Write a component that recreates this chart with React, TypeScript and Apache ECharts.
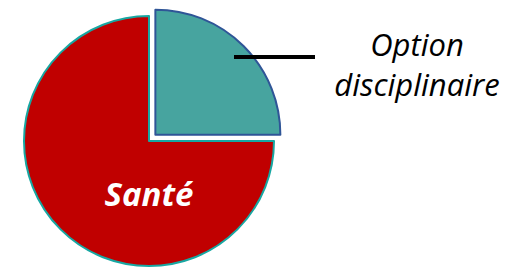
import React, { useEffect, useRef } from "react";
import * as echarts from "echarts";

const categories = ["Option\ndisciplinaire", "Santé"];
const values = [25, 75];
const colors = ["#47A49F", "#C00000"];
const borders = ["#2F5597", "#17A7A2"];

export default function App() {
  const ref = useRef<HTMLDivElement>(null);
  useEffect(() => {
    const chart = echarts.init(ref.current!, null, { renderer: "svg" });
    chart.setOption({
      animation: false,
      backgroundColor: "#ffffff",
      series: [
        {
          type: "pie",
          center: [149, 141],
          radius: 125,
          startAngle: 90,
          clockwise: true,
          selectedMode: "single",
          selectedOffset: 9,
          silent: true,
          labelLine: { show: false },
          data: categories.map((name, i) => ({
            name,
            value: values[i],
            selected: i === 0,
            itemStyle: { color: colors[i], borderColor: borders[i], borderWidth: 2 },
            label:
              i === 0
                ? { show: false }
                : {
                    show: true,
                    position: "center",
                    offset: [0, 52],
                    color: "#ffffff",
                    fontFamily: "Open Sans",
                    fontStyle: "italic",
                    fontWeight: "bold",
                    fontSize: 33,
                  },
          })),
        },
      ],
      graphic: [
        {
          type: "line",
          shape: { x1: 234, y1: 57, x2: 315, y2: 57 },
          style: { stroke: "#000000", lineWidth: 4 },
          z: 100,
        },
        {
          type: "text",
          x: 417,
          y: 64,
          z: 100,
          style: {
            text: categories[0],
            fill: "#000000",
            fontFamily: "Open Sans",
            fontStyle: "italic",
            fontSize: 31,
            lineHeight: 40,
            textAlign: "center",
            textVerticalAlign: "middle",
          },
        },
      ],
    });
    return () => chart.dispose();
  }, []);
  return (
    <div
      ref={ref}
      style={{ position: "fixed", left: 0, top: 0, width: 518, height: 268 }}
    />
  );
}
